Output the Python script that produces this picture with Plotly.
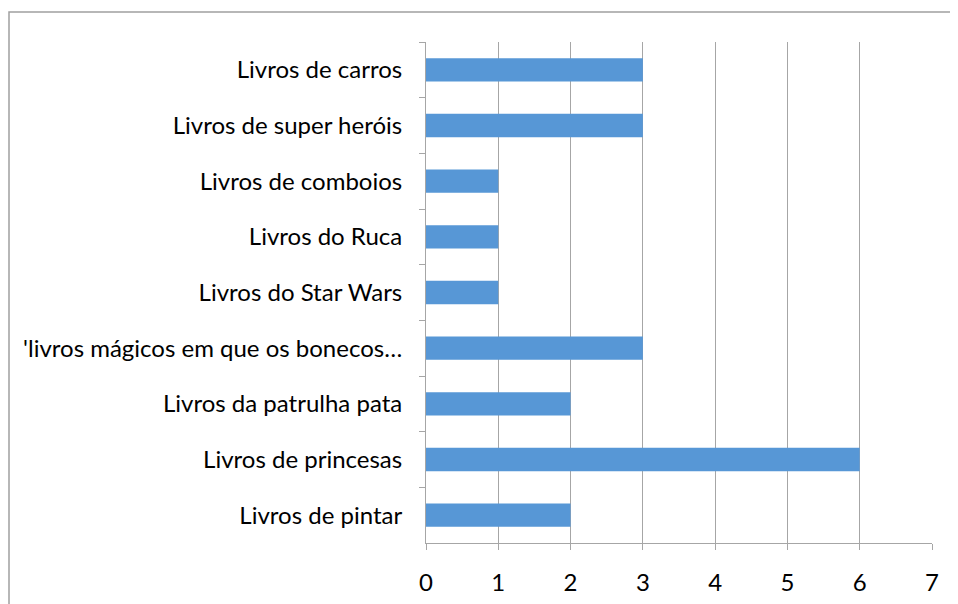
import plotly.graph_objects as go

categories = [
    "Livros de carros",
    "Livros de super heróis",
    "Livros de comboios",
    "Livros do Ruca",
    "Livros do Star Wars",
    "'livros mágicos em que os bonecos…",
    "Livros da patrulha pata",
    "Livros de princesas",
    "Livros de pintar",
]
values = [3, 3, 1, 1, 1, 3, 2, 6, 2]
x_ticks = [0, 1, 2, 3, 4, 5, 6, 7]

# page has an 8px body margin; compensate
W, H = 950, 596
L, R, T, B = 418, 26, 34, 61
pw, ph = W - L - R, H - T - B

fig = go.Figure(go.Bar(
    x=values, y=categories, orientation="h",
    marker=dict(color="#5797d6", line=dict(width=0)),
    width=0.42,
))

grey = "#a6a6a6"
font = dict(family="Lato, 'Open Sans', sans-serif", size=24, color="#000000")
fig.update_layout(
    width=W, height=H,
    margin=dict(l=L, r=R, t=T, b=B, pad=0, autoexpand=False),
    paper_bgcolor="white", plot_bgcolor="white",
    showlegend=False,
    font=font,
    xaxis=dict(
        range=[0, 7], tickvals=x_ticks, showgrid=True, gridcolor=grey, gridwidth=1,
        showline=True, linecolor=grey, linewidth=1, ticks="outside", ticklen=6,
        tickcolor=grey, zeroline=False, tickfont=font, ticklabelstandoff=12,
        automargin=False,
    ),
    yaxis=dict(
        autorange="reversed", showline=True, linecolor=grey, linewidth=1,
        ticks="outside", ticklen=6, tickcolor=grey, tickson="boundaries",
        showgrid=False, tickfont=font, ticklabelstandoff=18, automargin=False,
    ),
    shapes=[dict(
        type="rect", xref="paper", yref="paper",
        x0=(1 - L) / pw, x1=(W + 20 - L) / pw,
        y0=-(B + 20) / ph, y1=(H - B - 4) / ph,
        line=dict(color="#a0a0a0", width=1.5), fillcolor="rgba(0,0,0,0)", layer="below",
    )],
)

fig.write_html("out.html")
